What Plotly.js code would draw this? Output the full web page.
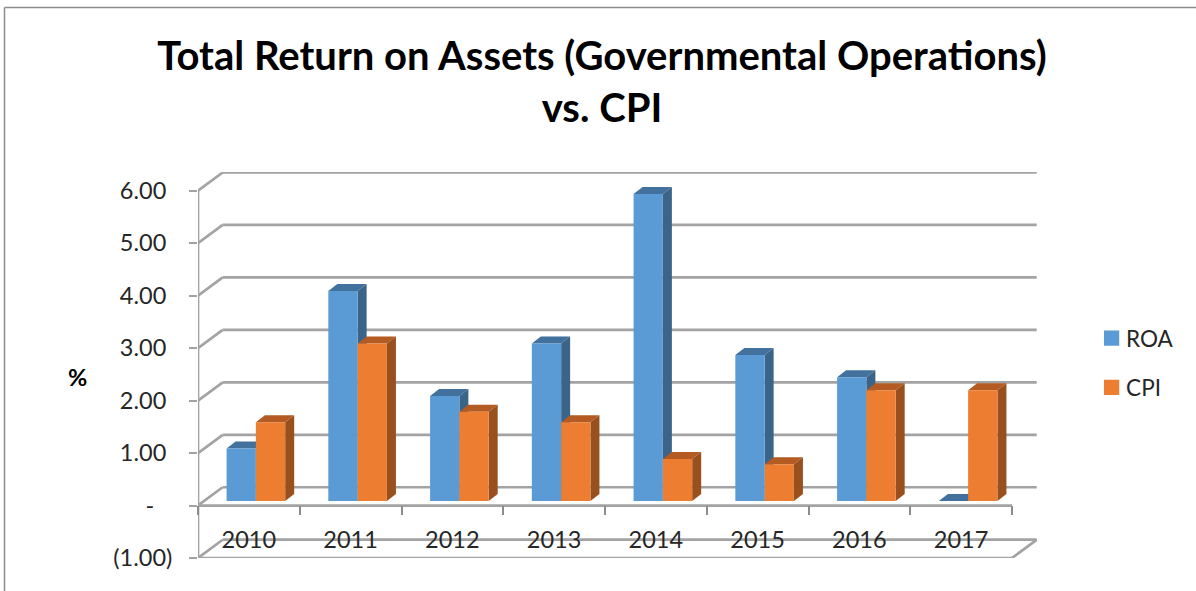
<!DOCTYPE html>
<html><head><meta charset="utf-8">
<script src="https://cdn.plot.ly/plotly-3.0.1.min.js"></script>
<style>html,body{margin:0;padding:0;background:#fff;overflow:hidden}#c{width:1196px;height:591px}</style>
</head><body><div id="c"></div>
<script>
const years = ['2010','2011','2012','2013','2014','2015','2016','2017'];
const roa = [1.0,4.0,2.0,3.0,5.85,2.78,2.36,0];
const cpi = [1.5,3.0,1.7,1.5,0.8,0.7,2.11,2.11];
const tickVals = [6,5,4,3,2,1,0,-1];
const tickText = ['6.00\u00a0','5.00\u00a0','4.00\u00a0','3.00\u00a0','2.00\u00a0','1.00\u00a0','-\u00a0\u00a0\u00a0','(1.00)'];

const W=1196,H=591, L=198,R=1037,T=171.7,B=558;
const pxX=101.75, pxY=52.5;
const px=v=>v/pxX, py=v=>v/pxY;
const wallDx=px(24.7), wallDy=py(18.3);
const barW=px(29.3), barDx=px(7), barBase=py(4.6), depX=px(9), depY=py(7);
const xMin=-0.5, xMax=xMin+(R-L)/pxX, yMin=-1, yMax=yMin+(B-T)/pxY;
const xEnd=xMin+years.length;
const GRID='#a3a3a3';

const shapes=[];
const seg=(x0,y0,x1,y1)=>shapes.push({type:'line',layer:'below',xref:'x',yref:'y',x0,y0,x1,y1,line:{color:GRID,width:2.7}});
const poly=(pts,fill)=>shapes.push({type:'path',layer:'below',xref:'x',yref:'y',
  path:'M'+pts.map(p=>p[0]+','+p[1]).join('L')+'Z',fillcolor:fill,line:{width:0}});

tickVals.forEach(v=>{
  seg(xMin,v,xMin+wallDx,v+wallDy);
  seg(xMin+wallDx,v+wallDy,xEnd+wallDx,v+wallDy);
});
seg(xMin,yMin,xMin,6);
seg(xMin,0,xEnd,0);
seg(xMin,yMin,xEnd,yMin);
seg(xEnd,yMin,xEnd+wallDx,yMin+wallDy);

function faces(i,x0,v,top,side){
  const b=barBase,t=barBase+v,x1=x0+barW;
  poly([[x0,t],[x0+depX,t+depY],[x1+depX,t+depY],[x1,t]],top);
  poly([[x1,t],[x1+depX,t+depY],[x1+depX,b+depY],[x1,b]],side);
}
years.forEach((y,i)=>{
  faces(i,i+barDx-barW,roa[i],'#41719c','#3b6489');
  faces(i,i+barDx,cpi[i],'#b35b22','#99501f');
});
// chart frame
const fx=p=>(p-L)/(R-L), fy=p=>(B-p)/(B-T);
shapes.push({type:'line',xref:'paper',yref:'paper',layer:'below',x0:fx(4.5),x1:fx(4.5),y0:fy(7),y1:fy(591),line:{color:'#8c8c8c',width:1.5}});
shapes.push({type:'line',xref:'paper',yref:'paper',layer:'below',x0:fx(4.5),x1:fx(1196),y0:fy(7),y1:fy(7),line:{color:'#8c8c8c',width:1.5}});

const FONT='Lato, Carlito, sans-serif', TXT='#262626', SZ=23.5;
const traces=[
 {type:'bar',name:'ROA',x:years,y:roa,base:barBase,width:barW,offset:barDx-barW,legendgroup:'a',
  marker:{color:'#5b9bd5',line:{width:0}},hovertemplate:'ROA %{x}: %{y:.2f}<extra></extra>'},
 {type:'bar',name:'CPI',x:years,y:cpi,base:barBase,width:barW,offset:barDx,legendgroup:'b',
  marker:{color:'#ed7d31',line:{width:0}},hovertemplate:'CPI %{x}: %{y:.2f}<extra></extra>'}
];
const layout={
 width:W,height:H,paper_bgcolor:'#fff',plot_bgcolor:'rgba(0,0,0,0)',
 margin:{l:L,r:W-R,t:T,b:H-B,pad:0,autoexpand:false},
 font:{family:FONT,color:TXT,size:SZ},
 title:{text:'<b>Total Return on Assets (Governmental Operations)<br>vs. CPI</b>',
   font:{family:FONT,size:40,color:'#000'},x:602/W,xanchor:'center',xref:'container',y:1-70/H,yanchor:'top',yref:'container'},
 barmode:'overlay',
 xaxis:{type:'category',categoryorder:'array',categoryarray:years,range:[xMin,xMax],anchor:'free',position:(B-505)/(B-T),
   tickson:'boundaries',ticks:'outside',ticklen:9,tickwidth:1.5,tickcolor:'#8c8c8c',
   showline:false,showgrid:false,zeroline:false,ticklabelstandoff:18,tickfont:{family:FONT,size:SZ,color:TXT}},
 yaxis:{range:[yMin,yMax],tickmode:'array',tickvals:tickVals,ticktext:tickText,ticks:'outside',ticklen:8,tickwidth:2,tickcolor:GRID,
   showline:false,showgrid:false,zeroline:false,ticklabelstandoff:12,tickfont:{family:FONT,size:SZ,color:TXT}},
 legend:{xref:'container',yref:'container',x:1091.6/W,xanchor:'left',y:1-317/H,yanchor:'top',tracegroupgap:17,font:{family:FONT,size:22.5,color:TXT},bgcolor:'rgba(0,0,0,0)',traceorder:'grouped'},
 annotations:[{text:'<b>%</b>',xref:'paper',yref:'paper',x:fx(77),y:fy(377),showarrow:false,xanchor:'center',yanchor:'middle',font:{family:FONT,size:SZ,color:'#000'}}],
 shapes
};
Plotly.newPlot('c',traces,layout,{displayModeBar:false}).then(()=>{
  document.querySelectorAll('.legend .legendpoints path').forEach(p=>p.setAttribute('transform',(p.getAttribute('transform')||'')+' scale(1.27)'));
  document.querySelectorAll('.legend .legendtext').forEach(t=>t.setAttribute('x','34.5'));
});
</script></body></html>
